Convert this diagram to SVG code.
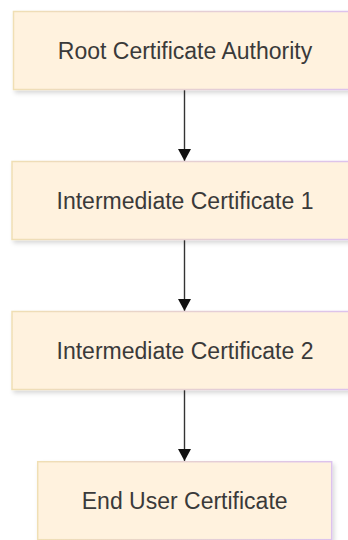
<svg xmlns="http://www.w3.org/2000/svg" width="348" height="540" viewBox="0 0 348 540">
<style>
.box{fill:#fff2de;stroke:url(#edge);stroke-width:1.5;filter:url(#sh)}
.lbl{font-family:"Liberation Sans",Arial,sans-serif;font-size:23px;fill:#3a3a3a;text-anchor:middle;dominant-baseline:central}
.conn{stroke:#333;stroke-width:1.4;fill:none;marker-end:url(#ah)}
</style>
<defs>
<linearGradient id="edge" x1="0" y1="0" x2="1" y2="0">
<stop offset="0" stop-color="#f0dfb4"/>
<stop offset="1" stop-color="#dcc2ee"/>
</linearGradient>
<filter id="sh" x="-10%" y="-20%" width="130%" height="150%">
<feDropShadow dx="2" dy="3" stdDeviation="2" flood-color="#000" flood-opacity="0.15"/>
</filter>
<marker id="ah" markerWidth="13" markerHeight="13" refX="12" refY="6.5" orient="auto" markerUnits="userSpaceOnUse">
<path d="M0,0 L12,6.5 L0,13 Z" fill="#111"/>
</marker>
</defs>
<g id="connectors">
<line class="conn" x1="184.5" y1="89.5" x2="184.5" y2="161"/>
<line class="conn" x1="184.5" y1="239.5" x2="184.5" y2="311"/>
<line class="conn" x1="184.5" y1="389.5" x2="184.5" y2="461"/>
</g>
<g id="root">
<rect class="box" x="13.5" y="11.5" width="343" height="78"/>
<text class="lbl" x="185" y="50.5">Root Certificate Authority</text>
</g>
<g id="inter1">
<rect class="box" x="12" y="161.5" width="346" height="78"/>
<text class="lbl" x="185" y="200.5">Intermediate Certificate 1</text>
</g>
<g id="inter2">
<rect class="box" x="12" y="311.5" width="346" height="78"/>
<text class="lbl" x="185" y="350.5">Intermediate Certificate 2</text>
</g>
<g id="enduser">
<rect class="box" x="37.7" y="461.7" width="294" height="78"/>
<text class="lbl" x="184.7" y="500.5">End User Certificate</text>
</g>
</svg>
